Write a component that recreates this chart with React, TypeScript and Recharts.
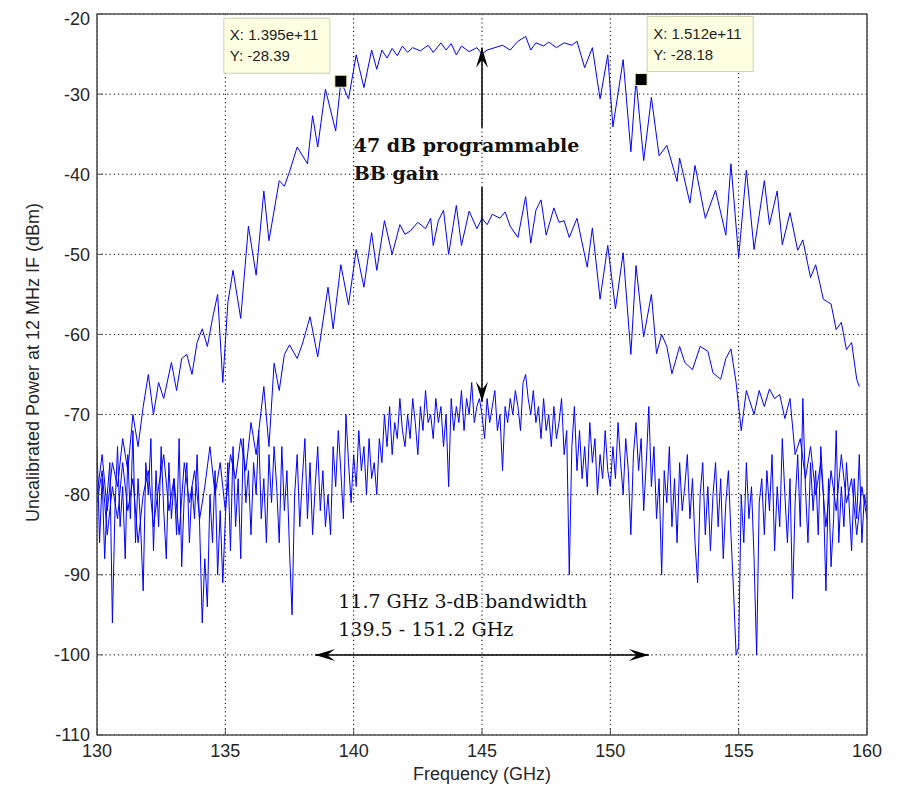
import {
  LineChart,
  Line,
  XAxis,
  YAxis,
  CartesianGrid,
  ReferenceLine,
  ReferenceDot,
  ReferenceArea,
} from 'recharts';

// axis ticks
const freqTicks = [130, 135, 140, 145, 150, 155, 160];
const powerTicks = [-110, -100, -90, -80, -70, -60, -50, -40, -30, -20];

// lowest trace (gain min), sampled every 0.1 GHz from 130 GHz
const floorStart = 130;
const floorStep = 0.1;
const floorPower = [
  -74, -86, -78, -88, -80, -76, -96, -82, -74, -84,
  -79, -88, -75, -83, -72, -86, -78, -84, -92, -76,
  -80, -73, -87, -77, -84, -74, -82, -88, -76, -83,
  -78, -85, -73, -89, -80, -76, -86, -79, -83, -75,
  -84, -96, -88, -94, -80, -86, -77, -90, -82, -91,
  -83, -76, -87, -74, -84, -78, -88, -73, -81, -77,
  -85, -76, -80, -72, -83, -78, -86, -75, -81, -74,
  -79, -86, -74, -82, -77, -87, -95, -80, -75, -84,
  -78, -73, -83, -76, -85, -79, -74, -82, -77, -84,
  -80, -85, -74, -79, -72, -77, -83, -70, -76, -81,
  -75, -79, -72, -77, -74, -80, -73, -78, -76, -80,
  -73, -76, -70, -74, -69, -75, -71, -73, -68, -72,
  -74, -70, -73, -68, -71, -75, -69, -72, -67, -71,
  -70, -73, -68, -71, -69, -74, -70, -79, -68, -72,
  -69, -71, -67, -72, -68, -70, -66, -71, -69, -68,
  -70, -73, -68, -71, -69, -67, -72, -70, -77, -69,
  -71, -68, -70, -67, -69, -72, -66, -65, -68, -70,
  -67, -71, -69, -73, -68, -72, -70, -74, -69, -73,
  -71, -68, -75, -72, -90, -74, -69, -77, -72, -78,
  -74, -79, -71, -76, -73, -80, -75, -78, -72, -77,
  -79, -74, -78, -71, -76, -80, -73, -77, -85, -75,
  -71, -77, -73, -82, -76, -69, -79, -74, -83, -78,
  -90, -77, -81, -74, -84, -78, -86, -76, -82, -79,
  -75, -83, -78, -86, -91, -80, -76, -85, -79, -87,
  -80, -76, -84, -78, -88, -81, -77, -85, -92, -100,
  -99, -80, -86, -76, -83, -79, -88, -100, -81, -78,
  -85, -77, -82, -75, -87, -79, -84, -73, -80, -86,
  -78, -93, -81, -75, -84, -68, -79, -86, -76, -82,
  -77, -85, -74, -80, -92, -78, -89, -83, -72, -86,
  -79, -84, -76, -81, -87, -78, -83, -75, -86, -80,
  -82,
];

// highest trace (gain max): [GHz, dBm]
const topTrace: [number, number][] = [
  [130.0, -80], [130.2, -75], [130.4, -82], [130.6, -76], [130.8, -79],
  [131.0, -73], [131.2, -77], [131.4, -70], [131.6, -74], [131.8, -69],
  [132.0, -65], [132.2, -70], [132.4, -66], [132.6, -68], [132.9, -63.5],
  [133.1, -67], [133.3, -63], [133.5, -62.5], [133.7, -65], [133.9, -61],
  [134.1, -59.3], [134.3, -61.5], [134.5, -58], [134.7, -55], [134.9, -66],
  [135.1, -56], [135.3, -52], [135.6, -58], [135.9, -46.5], [136.2, -52.6],
  [136.5, -42.1], [136.7, -48.3], [137.1, -40.8], [137.3, -41.5], [137.5, -39.7],
  [137.8, -36.6], [138.2, -38.7], [138.4, -32.7], [138.6, -36.6], [138.9, -29.4],
  [139.3, -34.6], [139.5, -28.4], [139.8, -30.6], [140.1, -25.1], [140.4, -29.2],
  [140.7, -24.5], [140.9, -26.9], [141.1, -24.5], [141.3, -25.5], [141.5, -24.3],
  [141.7, -25.2], [141.9, -24.0], [142.1, -24.8], [142.3, -24.2], [142.6, -24.6],
  [142.9, -23.9], [143.1, -24.8], [143.4, -23.6], [143.6, -24.5], [143.8, -23.7],
  [144.0, -25.1], [144.2, -24.0], [144.5, -24.7], [144.8, -24.2], [145.0, -25.0],
  [145.2, -24.5], [145.5, -24.2], [145.8, -23.9], [146.1, -24.5], [146.4, -23.4],
  [146.7, -22.8], [146.9, -24.5], [147.1, -23.6], [147.4, -24.0], [147.6, -23.5],
  [147.9, -24.2], [148.2, -23.6], [148.5, -23.9], [148.7, -23.4], [149.0, -26.7],
  [149.3, -24.2], [149.6, -30.6], [149.9, -25.1], [150.1, -34.1], [150.5, -25.7],
  [150.8, -37.2], [151.0, -28.2], [151.3, -38.3], [151.6, -30.4], [151.9, -37.7],
  [152.2, -36.4], [152.6, -40.9], [152.7, -38], [153.1, -43.6], [153.3, -38.9],
  [153.7, -45.5], [154.1, -42], [154.5, -47.6], [154.7, -38.7], [155.0, -50.4],
  [155.3, -39.5], [155.6, -49.4], [156.0, -40.8], [156.2, -46.3], [156.5, -42.1],
  [156.7, -48.8], [157.0, -44.8], [157.3, -49.5], [157.5, -48.2], [157.8, -52.9],
  [158.0, -51.3], [158.3, -55.6], [158.6, -56.2], [158.8, -59.4], [159.0, -58.5],
  [159.2, -61.9], [159.4, -61], [159.6, -65.6], [159.7, -66.5],
];

// middle trace: [GHz, dBm]
const midTrace: [number, number][] = [
  [130.0, -81], [130.2, -77], [130.4, -85], [130.6, -79], [130.8, -83],
  [131.0, -76], [131.2, -82], [131.4, -78], [131.6, -86], [131.8, -80],
  [132.0, -77], [132.2, -84], [132.4, -79], [132.6, -75], [132.8, -82],
  [133.0, -78], [133.2, -85], [133.4, -76], [133.6, -81], [133.8, -77],
  [134.0, -83], [134.2, -79], [134.4, -74], [134.6, -80], [134.8, -76],
  [135.0, -82], [135.2, -75], [135.4, -78], [135.6, -73], [135.8, -77],
  [136.0, -71], [136.2, -75], [136.5, -66.5], [136.7, -74], [136.9, -63.6],
  [137.1, -67], [137.3, -62.5], [137.5, -61.3], [137.8, -63], [138.0, -61.2],
  [138.3, -57.8], [138.6, -62.8], [139.0, -54.1], [139.2, -59.3], [139.5, -51.3],
  [139.8, -56.3], [140.1, -49.4], [140.4, -54.1], [140.7, -47.3], [140.9, -52],
  [141.2, -45.8], [141.5, -50], [141.8, -46.3], [142.0, -47.5], [142.2, -47.1],
  [142.5, -46], [142.8, -46.8], [143.0, -45.5], [143.1, -48.9], [143.3, -45.8],
  [143.5, -44.5], [143.7, -50], [144.0, -43.9], [144.2, -48.9], [144.5, -44.6],
  [144.8, -46.8], [145.0, -45.5], [145.2, -46.3], [145.4, -45], [145.7, -45.5],
  [145.9, -44.7], [146.1, -46.5], [146.4, -47.9], [146.7, -42.8], [146.9, -48.6],
  [147.1, -44.5], [147.3, -43.2], [147.5, -47.6], [147.8, -44.2], [148.0, -46],
  [148.2, -45.8], [148.4, -47.9], [148.7, -45.5], [149.1, -51.6], [149.3, -46.7],
  [149.6, -55.6], [149.9, -48.9], [150.2, -56.8], [150.5, -49.8], [150.8, -62.5],
  [151.0, -51.4], [151.3, -60.3], [151.6, -55], [151.8, -62.4], [152.0, -60],
  [152.2, -61.5], [152.4, -64.9], [152.7, -61.5], [152.9, -63.5], [153.2, -64.4],
  [153.5, -61.5], [153.8, -62.1], [154.0, -64.8], [154.3, -65.6], [154.5, -63],
  [154.7, -61.8], [154.9, -66], [155.1, -72], [155.3, -67], [155.6, -70],
  [155.8, -67], [156.0, -69], [156.2, -66.8], [156.4, -68], [156.6, -67.5],
  [156.8, -70.5], [157.0, -68], [157.2, -75], [157.4, -73], [157.6, -78],
  [157.8, -74], [158.0, -80], [158.2, -76], [158.4, -84], [158.6, -77],
  [158.8, -82], [159.0, -75], [159.2, -81], [159.4, -78], [159.6, -85],
  [159.8, -79], [160.0, -83],
];

// data tips on the top trace
const tipFreq = [139.5, 151.2];
const tipPower = [-28.39, -28.18];
const tipXText = ['X: 1.395e+11', 'X: 1.512e+11'];
const tipYText = ['Y: -28.39', 'Y: -28.18'];

const floorData = floorPower.map((p, i) => ({ f: +(floorStart + i * floorStep).toFixed(1), p }));
const topData = topTrace.map(([f, p]) => ({ f, p }));
const midData = midTrace.map(([f, p]) => ({ f, p }));

const SANS = '"Liberation Sans", Arial, sans-serif';
const SERIF = '"DejaVu Serif", "Liberation Serif", serif';
const BLUE = '#0000ff';

// matlab-ish arrow head (notched) pointing at x2,y2
function head(x1: number, y1: number, x2: number, y2: number, len = 20, half = 6) {
  const a = Math.atan2(y2 - y1, x2 - x1);
  const c = Math.cos(a), s = Math.sin(a);
  const bx = x2 - len * c, by = y2 - len * s;
  const nx = x2 - len * 0.6 * c, ny = y2 - len * 0.6 * s;
  const p1 = `${bx - half * s},${by + half * c}`;
  const p2 = `${bx + half * s},${by - half * c}`;
  return <polygon points={`${x2},${y2} ${p1} ${nx},${ny} ${p2}`} fill="#000" />;
}

const arrowShape = (both: boolean) => (props: any) => {
  const { x1, y1, x2, y2 } = props;
  return (
    <g>
      <line x1={x1} y1={y1} x2={x2} y2={y2} stroke="#000" strokeWidth={1.5} />
      {head(x1, y1, x2, y2)}
      {both && head(x2, y2, x1, y1)}
    </g>
  );
};

const tipShape = (i: number) => (props: any) => {
  const { cx, cy } = props;
  const left = i === 0;
  const bx = left ? cx - 117 : cx + 6;
  const by = cy - 63;
  return (
    <g>
      <rect x={bx} y={by} width={106} height={55} fill="#ffffe1" stroke="#cfcfb8" strokeWidth={1} />
      <text x={bx + 6} y={by + 22} fontFamily={SANS} fontSize={15} fill="#222">{tipXText[i]}</text>
      <text x={bx + 6} y={by + 43} fontFamily={SANS} fontSize={15} fill="#222">{tipYText[i]}</text>
      <rect x={cx - 6} y={cy - 6} width={12} height={12} fill="#000" stroke="#f4f0c0" strokeWidth={1} />
    </g>
  );
};

const noteShape = (lines: string[], bold: boolean) => (props: any) => {
  const { cx, cy } = props;
  return (
    <text x={cx} y={cy} fontFamily={SERIF} fontSize={19} fontWeight={bold ? 700 : 400} fill="#111">
      {lines.map((l, k) => (
        <tspan key={k} x={cx} dy={k === 0 ? 0 : 28}>{l}</tspan>
      ))}
    </text>
  );
};

// rotated y label, a little above the plot's middle like the original
const YLabel = (props: any) => {
  const vb = props.viewBox || { x: 0, y: 0, width: 0, height: 0 };
  const x = vb.x + 25;
  const y = vb.y + vb.height / 2 - 12;
  return (
    <text x={x} y={y} transform={`rotate(-90, ${x}, ${y})`} textAnchor="middle" dominantBaseline="central"
      fontFamily={SANS} fontSize={18} fill="#262626">
      Uncalibrated Power at 12 MHz IF (dBm)
    </text>
  );
};

export default function App() {
  const tick = { fontFamily: SANS, fontSize: 18, fill: '#262626' };
  return (
    <LineChart width={893} height={778} margin={{ top: 5, right: 33, bottom: 0, left: 0 }}>
      <CartesianGrid stroke="#000" strokeDasharray="1.2 3" strokeWidth={1} />
      <XAxis
        xAxisId={0}
        type="number"
        dataKey="f"
        domain={[130, 160]}
        ticks={freqTicks}
        allowDataOverflow
        height={51}
        tick={tick}
        tickSize={-6}
        tickMargin={15}
        stroke="#555"
        label={{ value: 'Frequency (GHz)', position: 'insideBottom', offset: 6, style: { fontFamily: SANS, fontSize: 18, fill: '#262626' } }}
      />
      <XAxis
        xAxisId="top"
        orientation="top"
        type="number"
        domain={[130, 160]}
        ticks={freqTicks}
        height={1}
        tickSize={-6}
        tickFormatter={() => ''}
        stroke="#555"
      />
      <YAxis
        yAxisId={0}
        type="number"
        domain={[-110, -20]}
        ticks={powerTicks}
        allowDataOverflow
        width={89}
        tick={tick}
        tickSize={-6}
        tickMargin={13}
        stroke="#555"
        label={{ content: YLabel }}
      />
      <YAxis
        yAxisId="right"
        orientation="right"
        type="number"
        domain={[-110, -20]}
        ticks={powerTicks}
        width={1}
        tickSize={-6}
        tickFormatter={() => ''}
        stroke="#555"
      />
      <ReferenceArea x1={130} x2={160} y1={-110} y2={-20} fill="none" stroke="#555" strokeWidth={1.2} />

      <Line data={floorData} dataKey="p" stroke={BLUE} strokeWidth={1} dot={false} isAnimationActive={false} />
      <Line data={midData} dataKey="p" stroke={BLUE} strokeWidth={1} dot={false} isAnimationActive={false} />
      <Line data={topData} dataKey="p" stroke={BLUE} strokeWidth={1} dot={false} isAnimationActive={false} />

      <ReferenceLine segment={[{ x: 145, y: -34.2 }, { x: 145, y: -24.2 }]} shape={arrowShape(false)} />
      <ReferenceLine segment={[{ x: 145, y: -41.6 }, { x: 145, y: -68.4 }]} shape={arrowShape(false)} />
      <ReferenceLine segment={[{ x: 138.5, y: -100 }, { x: 151.5, y: -100 }]} shape={arrowShape(true)} />

      <ReferenceDot x={140} y={-37.2} r={0} shape={noteShape(['47 dB programmable', 'BB gain'], true)} />
      <ReferenceDot x={139.4} y={-94.2} r={0} shape={noteShape(['11.7 GHz 3-dB bandwidth', '139.5 - 151.2 GHz'], false)} />

      {tipFreq.map((f, i) => (
        <ReferenceDot key={i} x={f} y={tipPower[i]} r={0} shape={tipShape(i)} />
      ))}
    </LineChart>
  );
}
